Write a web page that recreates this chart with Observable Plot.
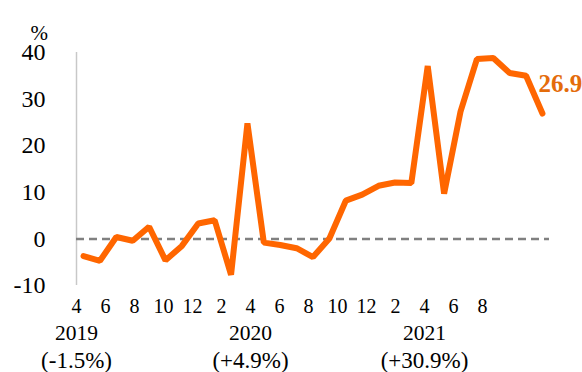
<!DOCTYPE html>
<html>
<head>
<meta charset="utf-8">
<script src="https://cdn.jsdelivr.net/npm/d3@7"></script>
<script src="https://cdn.jsdelivr.net/npm/@observablehq/plot@0.6"></script>
<style>
  html, body { margin: 0; padding: 0; background: white; }
  #wrap { position: relative; width: 582px; height: 372px; }
  #wrap svg { position: absolute; left: 0; top: 0; overflow: visible; }
  #wrap svg, #wrap svg text { font-family: "Liberation Serif", "Times New Roman", serif !important; }
  #wrap svg.labels { background: transparent !important; }
</style>
</head>
<body>
<div id="wrap"></div>
<script>
// Monthly periods, Apr 2019 – Aug 2021
const periods = ["2019-04","2019-05","2019-06","2019-07","2019-08","2019-09","2019-10","2019-11","2019-12",
  "2020-01","2020-02","2020-03","2020-04","2020-05","2020-06","2020-07","2020-08","2020-09","2020-10","2020-11","2020-12",
  "2021-01","2021-02","2021-03","2021-04","2021-05","2021-06","2021-07","2021-08"];
// Year-on-year change, %
const values = [-3.7, -4.7, 0.4, -0.4, 2.6, -4.6, -1.5, 3.3, 4.0,
  -7.7, 24.8, -0.8, -1.3, -2.0, -3.9, 0.1, 8.2, 9.5, 11.4, 12.1, 12.0,
  37.1, 9.7, 27.3, 38.6, 38.8, 35.6, 35.0, 26.9];
const yTicks = [-10, 0, 10, 20, 30, 40];
const monthLabels = ["4","6","8","10","12","2","4","6","8","10","12","2","4","6","8"];
const yearLabels = ["2019","2020","2021"];
const yearChange = ["(-1.5%)","(+4.9%)","(+30.9%)"];
const yearLabelPos = [0, 6, 12];

const data = periods.map((p, i) => ({period: p, i, value: values[i]}));
const last = data[data.length - 1];

const main = Plot.plot({
  width: 582, height: 372,
  marginLeft: 76, marginRight: 33, marginTop: 52, marginBottom: 87,
  x: {domain: [-0.43, data.length - 1 + 0.43], axis: null},
  y: {domain: [-10, 40], ticks: yTicks, tickFormat: d => String(d), tickSize: 0, tickPadding: 31, label: null},
  style: {fontSize: "24px", background: "white", color: "black"},
  marks: [
    Plot.ruleX([-0.43], {stroke: "#c8c8c8", strokeWidth: 1.5}),
    Plot.ruleY([0], {stroke: "#808080", strokeWidth: 2.5, strokeDasharray: "8,5"}),
    Plot.line(data, {x: "i", y: "value", stroke: "#FF6600", strokeWidth: 6, strokeLinejoin: "miter", strokeLinecap: "round"}),
    Plot.text(["%"], {frameAnchor: "top-left", dx: -46, dy: -27, fontSize: 21, fill: "black"}),
    Plot.text([last], {x: "i", y: "value", text: d => d.value.toFixed(1), dx: -4, dy: -30,
      textAnchor: "start", fontWeight: "bold", fontSize: 25, fill: "#E46C0A"})
  ]
});

const labels = Plot.plot({
  width: 582, height: 372,
  x: {type: "point", domain: d3.range(monthLabels.length), range: [75, 483], padding: 0, axis: null},
  y: {type: "point", domain: [0, 1, 2], range: [305, 360], padding: 0, axis: null},
  style: {background: "transparent", color: "black"},
  marks: [
    Plot.text(monthLabels, {x: (d, i) => i, y: (d, i) => 0, text: d => d, fontSize: 20, fill: "black"}),
    Plot.text(yearLabels, {x: (d, i) => yearLabelPos[i], y: (d, i) => 1, text: d => d, fontSize: 21.5, fill: "black"}),
    Plot.text(yearChange, {x: (d, i) => yearLabelPos[i], y: (d, i) => 2, text: d => d, fontSize: 23, fill: "black"})
  ]
});
labels.classList.add("labels");

const wrap = document.getElementById("wrap");
wrap.appendChild(main);
wrap.appendChild(labels);
</script>
</body>
</html>
